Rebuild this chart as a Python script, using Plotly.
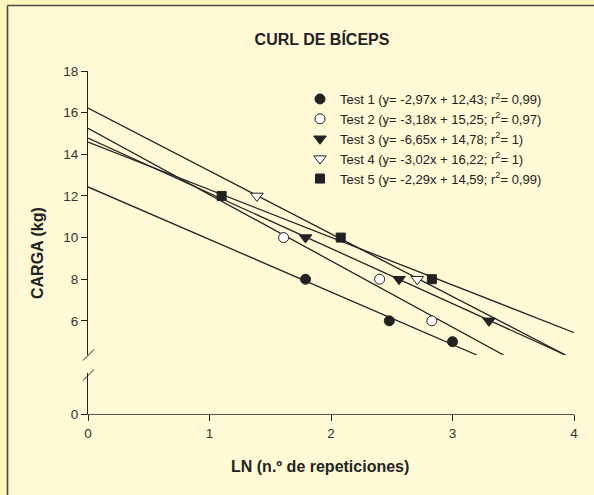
import plotly.graph_objects as go

# ---- data ----
test_names = [
    "Test 1 (y= -2,97x + 12,43; r<sup>2</sup>= 0,99)",
    "Test 2 (y= -3,18x + 15,25; r<sup>2</sup>= 0,97)",
    "Test 3 (y= -6,65x + 14,78; r<sup>2</sup>= 1)",
    "Test 4 (y= -3,02x + 16,22; r<sup>2</sup>= 1)",
    "Test 5 (y= -2,29x + 14,59; r<sup>2</sup>= 0,99)",
]
# measured points: x = LN(n.º de repeticiones), y = carga (kg)
t1_x = [1.79, 2.48, 3.00]
t1_y = [8, 6, 5]
t2_x = [1.61, 2.40, 2.83]
t2_y = [10, 8, 6]
t3_x = [1.79, 2.56, 3.30]
t3_y = [10, 8, 6]
t4_x = [1.39, 2.71]
t4_y = [12, 8]
t5_x = [1.10, 2.08, 2.83]
t5_y = [12, 10, 8]

# regression lines as drawn (start / end points)
l1_x = [0, 3.20]
l1_y = [12.43, 4.36]
l2_x = [0, 3.42]
l2_y = [15.25, 4.36]
l3_x = [0, 3.93]
l3_y = [14.78, 4.36]
l4_x = [0, 3.93]
l4_y = [16.22, 4.36]
l5_x = [0, 4.01]
l5_y = [14.59, 5.41]

x_ticks = [0, 1, 2, 3, 4]
y_ticks_upper = [6, 8, 10, 12, 14, 16, 18]
y_ticks_lower = [0]

title_text = "CURL DE BÍCEPS"
x_title = "LN (n.º de repeticiones)"
y_title = "CARGA (kg)"

# ---- styling ----
FONT = "Liberation Sans, Arial, Helvetica, sans-serif"
INK = "#222222"
OUTER = "#FEF6BA"
INNER = "#FFFAD5"

W, H = 594, 495
ML, MR, MT, MB = 88, 20, 71, 81
PW = W - ML - MR
PH = H - MT - MB


def px_x(p):
    return (p - ML) / PW


def px_y(p):
    return (H - MB - p) / PH


fig = go.Figure()

# invisible anchor trace so the lower (0) y-axis segment exists
fig.add_trace(go.Scatter(x=[x_ticks[0]], y=[y_ticks_lower[0]], mode="markers",
                         xaxis="x", yaxis="y", marker=dict(opacity=0, size=1),
                         showlegend=False, hoverinfo="skip"))

lines = [(l1_x, l1_y), (l2_x, l2_y), (l3_x, l3_y), (l4_x, l4_y), (l5_x, l5_y)]
for lx, ly in lines:
    fig.add_trace(go.Scatter(x=lx, y=ly, mode="lines", xaxis="x", yaxis="y2",
                             line=dict(color=INK, width=1.3), showlegend=False,
                             hoverinfo="skip"))

markers = [
    (t1_x, t1_y, "circle", INK, 10),
    (t2_x, t2_y, "circle", "white", 10),
    (t3_x, t3_y, "triangle-down", INK, 11),
    (t4_x, t4_y, "triangle-down", "white", 11),
    (t5_x, t5_y, "square", INK, 9),
]
for (mx, my, sym, fill, sz), name in zip(markers, test_names):
    fig.add_trace(go.Scatter(x=mx, y=my, mode="markers", name=name, xaxis="x", yaxis="y2",
                             marker=dict(symbol=sym, color=fill, size=sz,
                                         line=dict(color=INK, width=1))))

lower_top = px_y(373)
upper_bot = px_y(355)

axis_common = dict(showgrid=False, zeroline=False, showline=True, linecolor=INK, linewidth=1.2,
                   ticks="outside", ticklen=6, tickcolor=INK, tickwidth=1,
                   tickfont=dict(family=FONT, size=13.5, color="#333333"))

fig.update_layout(
    width=W, height=H,
    margin=dict(l=ML, r=MR, t=MT, b=MB),
    paper_bgcolor=OUTER,
    plot_bgcolor="rgba(0,0,0,0)",
    font=dict(family=FONT, color=INK),
    xaxis=dict(range=[0, 4], tickvals=x_ticks, anchor="y", domain=[0, 1],
               ticklabelstandoff=1, **{**axis_common, "linecolor": "#555555", "linewidth": 1.4}),
    yaxis=dict(range=[0, 1.97], domain=[0, lower_top], tickvals=y_ticks_lower, anchor="x",
               **axis_common),
    yaxis2=dict(range=[4.36, 18], domain=[upper_bot, 1], tickvals=y_ticks_upper, anchor="x",
                **axis_common),
    showlegend=True,
    legend=dict(x=px_x(300), y=px_y(84), xanchor="left", yanchor="top",
                bgcolor="rgba(0,0,0,0)", font=dict(family=FONT, size=13, color=INK),
                tracegroupgap=0),
    title=dict(text="<b>" + title_text + "</b>", x=322 / W, xref="container", xanchor="center",
               y=1 - 39 / H, yref="container", yanchor="middle",
               font=dict(family=FONT, size=16, color=INK)),
)

fig.add_annotation(text="<b>" + x_title + "</b>", xref="paper", yref="paper",
                   x=px_x(320), y=px_y(467), showarrow=False, xanchor="center", yanchor="middle",
                   font=dict(family=FONT, size=16, color=INK))
fig.add_annotation(text="<b>" + y_title + "</b>", xref="paper", yref="paper",
                   x=px_x(38), y=px_y(253), showarrow=False, textangle=-90,
                   xanchor="center", yanchor="middle",
                   font=dict(family=FONT, size=16, color=INK))

# page panel (inner light area with top/left border)
fig.add_shape(type="rect", xref="paper", yref="paper", layer="below",
              x0=px_x(8), x1=px_x(W), y0=px_y(H), y1=px_y(6),
              fillcolor=INNER, line=dict(width=0))
fig.add_shape(type="line", xref="paper", yref="paper", layer="below",
              x0=px_x(7.5), x1=px_x(7.5), y0=px_y(H), y1=px_y(5.5),
              line=dict(color="#4A4A4A", width=1.6))
fig.add_shape(type="line", xref="paper", yref="paper", layer="below",
              x0=px_x(7.5), x1=px_x(W), y0=px_y(5.5), y1=px_y(5.5),
              line=dict(color="#4A4A4A", width=1.6))

# axis break marks
for yc in (355, 375):
    fig.add_shape(type="line", xref="paper", yref="paper",
                  x0=px_x(83), x1=px_x(94), y0=px_y(yc + 5.5), y1=px_y(yc - 5.5),
                  line=dict(color=INK, width=1))

fig.write_html(
    "out.html",
    config={"displayModeBar": False},
    post_script="document.body.style.margin='0';document.body.style.overflow='hidden';",
)
